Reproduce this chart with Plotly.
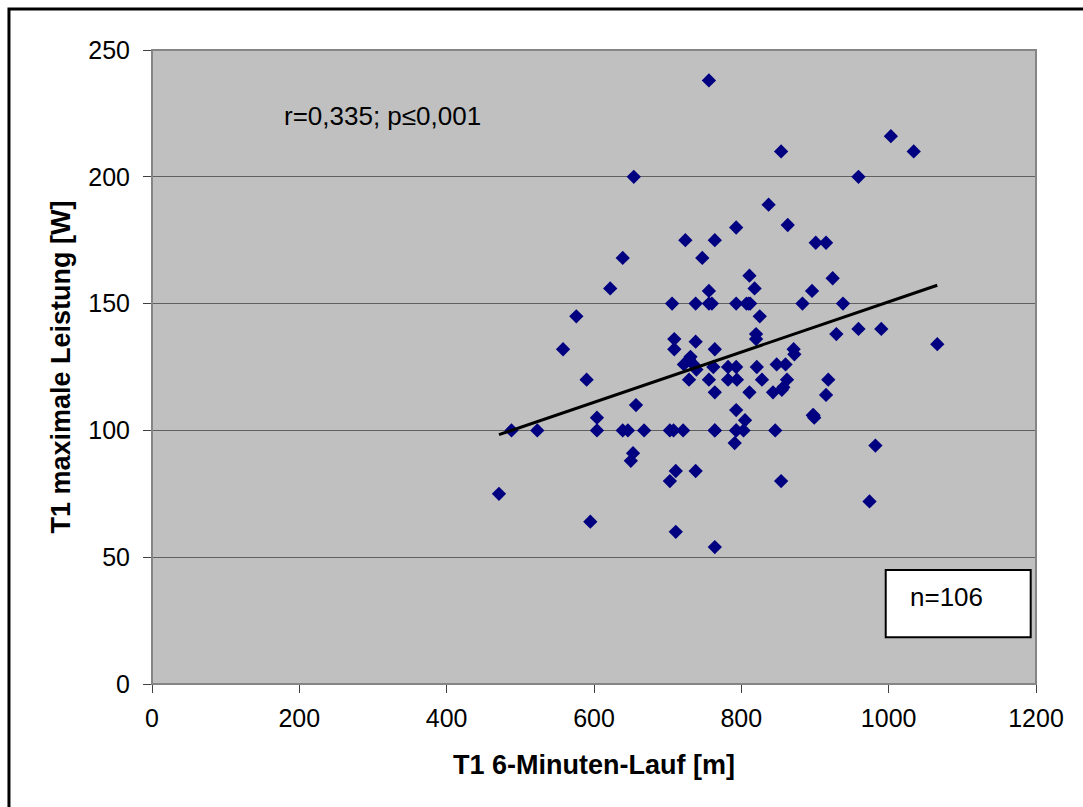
import numpy as np
import plotly.graph_objects as go

# T1 6-minute run distance [m]
lauf_m = [
    471, 488, 523, 558, 576, 590, 595, 604, 604, 622,
    639, 654, 639, 646, 657, 653, 650, 668, 703, 708,
    703, 711, 711, 706, 709, 709, 721, 724, 729, 722,
    735, 729, 738, 738, 738, 747, 756, 756, 756, 760,
    756, 762, 764, 764, 764, 764, 764, 782, 793, 782,
    794, 793, 793, 793, 793, 791, 803, 805, 807, 812,
    811, 818, 820, 820, 821, 825, 828, 811, 837, 843,
    846, 848, 854, 855, 854, 860, 862, 863, 871, 872,
    883, 896, 897, 899, 901, 915, 915, 918, 924, 929,
    938, 959, 959, 974, 982, 990, 1003, 1034, 1066,
    739, 731, 793, 764, 898, 857, 810,
]

# T1 maximum power output [W]
leistung_w = [
    75, 100, 100, 132, 145, 120, 64, 105, 100, 156,
    168, 200, 100, 100, 110, 91, 88, 100, 100, 100,
    80, 84, 60, 150, 136, 132, 100, 175, 128, 126,
    126, 120, 150, 135, 84, 168, 238, 155, 150, 150,
    120, 125, 175, 132, 115, 100, 54, 125, 125, 120,
    120, 150, 180, 108, 100, 95, 100, 104, 150, 150,
    161, 156, 138, 136, 125, 145, 120, 115, 189, 115,
    100, 126, 210, 116, 80, 126, 120, 181, 132, 130,
    150, 155, 106, 105, 174, 174, 114, 120, 160, 138,
    150, 200, 140, 72, 94, 140, 216, 210, 134,
    124, 129, 100, 100, 106, 117, 150,
]

# linear trend line coefficients (W per m, W)
trend_slope = 0.099
trend_intercept = 51.7

x_ticks = [0, 200, 400, 600, 800, 1000, 1200]
y_ticks = [0, 50, 100, 150, 200, 250]

stat_text = "r=0,335; p≤0,001"
n_text = "n=106"

FONT = "Liberation Sans, Arial, sans-serif"

x = np.array(lauf_m, dtype=float)
y = np.array(leistung_w, dtype=float)

# trend drawn across the observed distance range
trend_x = np.array([x.min(), x.max()])
trend_y = trend_slope * trend_x + trend_intercept

fig = go.Figure()

fig.add_trace(go.Scatter(
    x=x, y=y, mode="markers",
    marker=dict(symbol="diamond", size=11, color="#000080",
                line=dict(width=0)),
    showlegend=False, hoverinfo="x+y",
))

fig.add_trace(go.Scatter(
    x=trend_x, y=trend_y, mode="lines",
    line=dict(color="black", width=3),
    showlegend=False, hoverinfo="skip",
))

fig.update_layout(
    width=1083, height=807,
    margin=dict(l=152, r=47, t=50, b=123),
    paper_bgcolor="white",
    plot_bgcolor="#C0C0C0",
    font=dict(family=FONT, size=25, color="black"),
    xaxis=dict(
        range=[0, 1200], tickvals=x_ticks,
        showgrid=False, zeroline=False,
        showline=True, linecolor="#404040", linewidth=1,
        ticks="outside", ticklen=8, tickcolor="#404040",
        tickfont=dict(size=25), ticklabelstandoff=4,
        title=dict(text="<b>T1 6-Minuten-Lauf [m]</b>",
                   font=dict(size=27), standoff=24),
    ),
    yaxis=dict(
        range=[0, 250], tickvals=y_ticks,
        showgrid=True, gridcolor="#606060", gridwidth=1,
        zeroline=False,
        showline=True, linecolor="#404040", linewidth=1,
        ticks="outside", ticklen=8, tickcolor="#404040",
        tickfont=dict(size=25), ticklabelstandoff=8,
        title=dict(text="<b>T1 maximale Leistung [W]</b>",
                   font=dict(size=27), standoff=9),
    ),
    shapes=[
        # plot-area frame (top/right in grey)
        dict(type="rect", xref="paper", yref="paper",
             x0=0, x1=1, y0=0, y1=1,
             line=dict(color="#858585", width=2), layer="above"),
        # "n" box
        dict(type="rect", xref="paper", yref="paper",
             x0=0.830, x1=0.994, y0=0.0737, y1=0.1798,
             line=dict(color="black", width=2), fillcolor="white",
             layer="above"),
        # outer chart frame
        dict(type="rect", xref="paper", yref="paper",
             x0=-0.1618, x1=1.07, y0=-0.22, y1=1.0647,
             line=dict(color="black", width=3), layer="above"),
    ],
    annotations=[
        dict(text=stat_text, xref="x", yref="y", x=176, y=224,
             xanchor="left", yanchor="middle", showarrow=False,
             font=dict(size=26)),
        dict(text=n_text, xref="paper", yref="paper", x=0.855, y=0.1367,
             xanchor="left", yanchor="middle", showarrow=False,
             font=dict(size=26)),
    ],
)

fig.write_html("out.html")
